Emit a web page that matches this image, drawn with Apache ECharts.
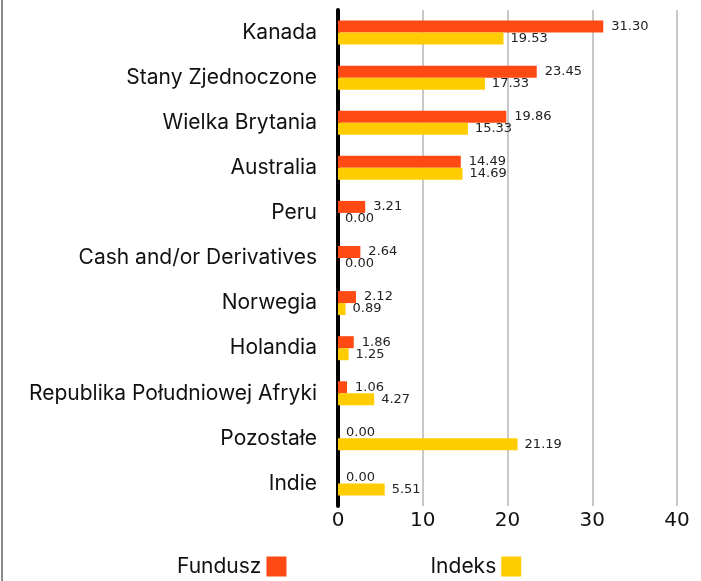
<!DOCTYPE html>
<html>
<head>
<meta charset="utf-8">
<script src="https://cdn.jsdelivr.net/npm/echarts@6/dist/echarts.min.js"></script>
<style>
    body { margin: 0; background: #fff; }
    #main { width: 701px; height: 581px; }
    #edge { position: absolute; left: 1px; top: 0; width: 2px; height: 581px; background: #8a8a8a; }
</style>
</head>
<body>
<div id="main"></div>
<div id="edge"></div>
<script>
var kraje = ['Kanada', 'Stany Zjednoczone', 'Wielka Brytania', 'Australia', 'Peru',
    'Cash and/or Derivatives', 'Norwegia', 'Holandia', 'Republika Południowej Afryki',
    'Pozostałe', 'Indie'];
var fundusz = [31.30, 23.45, 19.86, 14.49, 3.21, 2.64, 2.12, 1.86, 1.06, 0.00, 0.00];
var indeks = [19.53, 17.33, 15.33, 14.69, 0.00, 0.00, 0.89, 1.25, 4.27, 21.19, 5.51];

var fontName = 'Inter, "Noto Sans", sans-serif';
var fontLiczby = '"DejaVu Sans", sans-serif';

function fn_slupki_kraje(id) {
    var chartDom = document.getElementById(id);
    var myChart = echarts.init(chartDom);
    var option;

    option = {
        textStyle: { fontFamily: fontName },
        legend: {
            data: ['Fundusz', 'Indeks'],
            left: 172,
            top: 551,
            align: 'right',
            itemWidth: 20,
            itemHeight: 20,
            itemGap: 144,
            icon: 'rect',
            textStyle: { fontSize: 21, color: '#111', fontFamily: fontName }
        },
        grid: {
            left: 338,
            right: 24,
            top: 10,
            bottom: 75,
            containLabel: false
        },
        xAxis: {
            type: 'value',
            min: 0,
            max: 40,
            interval: 10,
            axisLine: { show: false },
            axisTick: { show: false },
            axisLabel: { fontSize: 20, color: '#111', margin: 5, fontFamily: fontLiczby },
            splitLine: { lineStyle: { color: '#c8c8c8', width: 2 } }
        },
        yAxis: {
            type: 'category',
            inverse: true,
            data: kraje,
            axisTick: { show: false },
            axisLine: { lineStyle: { color: '#000', width: 4 } },
            axisLabel: { fontSize: 21, color: '#111', margin: 21, fontFamily: fontName }
        },
        series: [
            {
                name: 'Fundusz',
                type: 'bar',
                data: fundusz,
                barWidth: 12,
                barGap: '0%',
                itemStyle: { color: '#ff4a14' },
                label: {
                    show: true,
                    position: 'right',
                    distance: 8,
                    fontSize: 13,
                    color: '#222',
                    fontFamily: fontLiczby,
                    formatter: function (p) {
                        return p.value.toFixed(2);
                    }
                }
            },
            {
                name: 'Indeks',
                type: 'bar',
                data: indeks,
                barWidth: 12,
                itemStyle: { color: '#ffcc00' },
                label: {
                    show: true,
                    position: 'right',
                    distance: 7,
                    fontSize: 13,
                    color: '#222',
                    fontFamily: fontLiczby,
                    formatter: function (p) {
                        return p.value.toFixed(2);
                    }
                }
            }
        ]
    };

    option && myChart.setOption(option);
}

fn_slupki_kraje('main');
</script>
</body>
</html>
